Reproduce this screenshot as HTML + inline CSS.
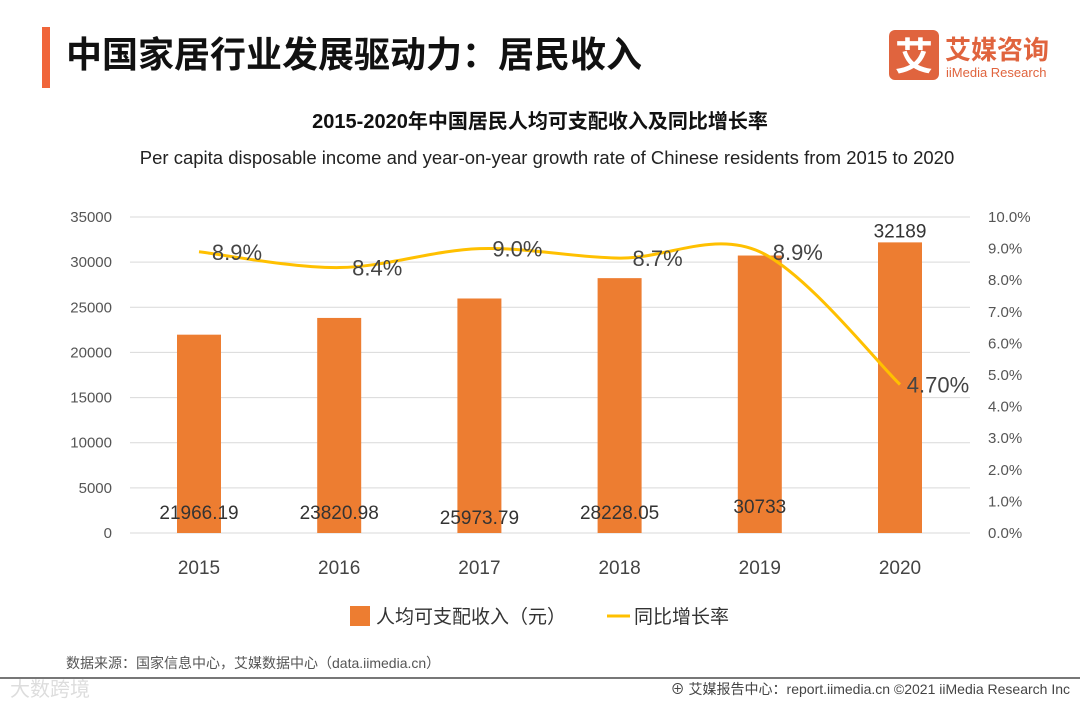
<!DOCTYPE html>
<html><head><meta charset="utf-8">
<style>
body{margin:0;width:1080px;height:702px;background:#fff;overflow:hidden;font-family:"Liberation Sans","Noto Sans CJK SC",sans-serif;}
</style></head>
<body>
<svg width="1080" height="702" xmlns="http://www.w3.org/2000/svg" style="position:absolute;left:0;top:0">
<rect x="42" y="27" width="8" height="61" fill="#f0653a"/>
<text x="66" y="67" font-size="36" font-weight="bold" fill="#111" font-family="Liberation Sans,Noto Sans CJK SC,sans-serif">中国家居行业发展驱动力：居民收入</text>
<g>
<rect x="889" y="30" width="50" height="50" rx="6" fill="#e0643e"/>
<text x="914" y="70" font-size="38" fill="#fff" text-anchor="middle" font-weight="bold" font-family="Noto Sans CJK SC,sans-serif">艾</text>
<text x="945" y="59" font-size="26" fill="#e0643e" font-weight="bold" font-family="Noto Sans CJK SC,sans-serif">艾媒咨询</text>
<text x="946" y="77" font-size="13" fill="#e0643e" font-family="Liberation Sans,sans-serif">iiMedia Research</text>
</g>
<text x="540" y="128" font-size="20" font-weight="bold" fill="#111" text-anchor="middle">2015-2020年中国居民人均可支配收入及同比增长率</text>
<text x="547" y="164" font-size="18.5" fill="#222" text-anchor="middle">Per capita disposable income and year-on-year growth rate of Chinese residents from  2015 to 2020</text>
<g id="chart"></g>
<g>
<rect x="350" y="606" width="20" height="20" fill="#ed7d31"/>
<text x="376" y="623" font-size="19" fill="#333">人均可支配收入（元）</text>
<line x1="607" y1="616" x2="630" y2="616" stroke="#ffc000" stroke-width="3"/>
<text x="634" y="623" font-size="19" fill="#333">同比增长率</text>
</g>
<text x="66" y="668" font-size="14" fill="#555">数据来源：国家信息中心，艾媒数据中心（data.iimedia.cn）</text>
<line x1="0" y1="678" x2="1080" y2="678" stroke="#777" stroke-width="2"/>
<text x="10" y="696" font-size="20" fill="#ddd">大数跨境</text>
<text x="1070" y="694" font-size="14" fill="#444" text-anchor="end">⊕ 艾媒报告中心：report.iimedia.cn   ©2021  iiMedia Research  Inc</text>
</svg>
<script>
const years=["2015","2016","2017","2018","2019","2020"];
const income=[21966.19,23820.98,25973.79,28228.05,30733,32189];
const incomeLabels=["21966.19","23820.98","25973.79","28228.05","30733","32189"];
const growth=[8.9,8.4,9.0,8.7,8.9,4.7];
const growthLabels=["8.9%","8.4%","9.0%","8.7%","8.9%","4.70%"];
const leftTicks=[0,5000,10000,15000,20000,25000,30000,35000];
const rightTicks=[0,1,2,3,4,5,6,7,8,9,10];
const NS="http://www.w3.org/2000/svg";
const g=document.getElementById('chart');
const y0=533,yTop=217,xL=130,xR=970;
const yL=v=>y0-(v/35000)*(y0-yTop);
const yR=v=>y0-(v/10)*(y0-yTop);
const xC=i=>199+i*140.2;
function mk(t,a,txt){const e=document.createElementNS(NS,t);for(const k in a)e.setAttribute(k,a[k]);if(txt!==undefined)e.textContent=txt;g.appendChild(e);return e;}
leftTicks.forEach(v=>{
 const l=mk('line',{x1:xL,x2:xR,y1:yL(v),y2:yL(v),stroke:'#d9d9d9','stroke-width':1});
 
 
 const t=mk('text',{x:112,y:yL(v)+5,'font-size':15,fill:'#555','text-anchor':'end'},String(v));
 
 
});
rightTicks.forEach(v=>{
 const t=mk('text',{x:988,y:yR(v)+5,'font-size':15,fill:'#555'},v.toFixed(1)+'%');
 
 
});
years.forEach((y,i)=>{
 const b=mk('rect',{x:xC(i)-22,y:yL(income[i]),width:44,height:y0-yL(income[i]),fill:'#ed7d31'});
 
 
 const t=mk('text',{x:xC(i),y:574,'font-size':19,fill:'#444','text-anchor':'middle'},y);
 
 
 const last=i===years.length-1;
 const vy=last?yL(income[i])-5:(i===4?513:519)-(i===2?-5:0);
 const v=mk('text',{x:xC(i),y:vy,'font-size':19,fill:'#333','text-anchor':'middle'},incomeLabels[i]);
 
 
});
const pts=growth.map((v,i)=>[xC(i),yR(v)]);
let d='M'+pts[0][0]+','+pts[0][1];
for(let i=0;i<pts.length-1;i++){
 const p0=pts[i-1]||pts[i],p1=pts[i],p2=pts[i+1],p3=pts[i+2]||p2;
 const c1=[p1[0]+(p2[0]-p0[0])/6,p1[1]+(p2[1]-p0[1])/6];
 const c2=[p2[0]-(p3[0]-p1[0])/6,p2[1]-(p3[1]-p1[1])/6];
 d+=` C${c1[0]},${c1[1]} ${c2[0]},${c2[1]} ${p2[0]},${p2[1]}`;
}
const ln=mk('path',{d:d,fill:'none',stroke:'#ffc000','stroke-width':3});


pts.forEach((p,i)=>{
 const t=mk('text',{x:p[0]+38,y:p[1]+8,'font-size':22,fill:'#444','text-anchor':'middle'},growthLabels[i]);
 
 
});
</script>
</body></html>
